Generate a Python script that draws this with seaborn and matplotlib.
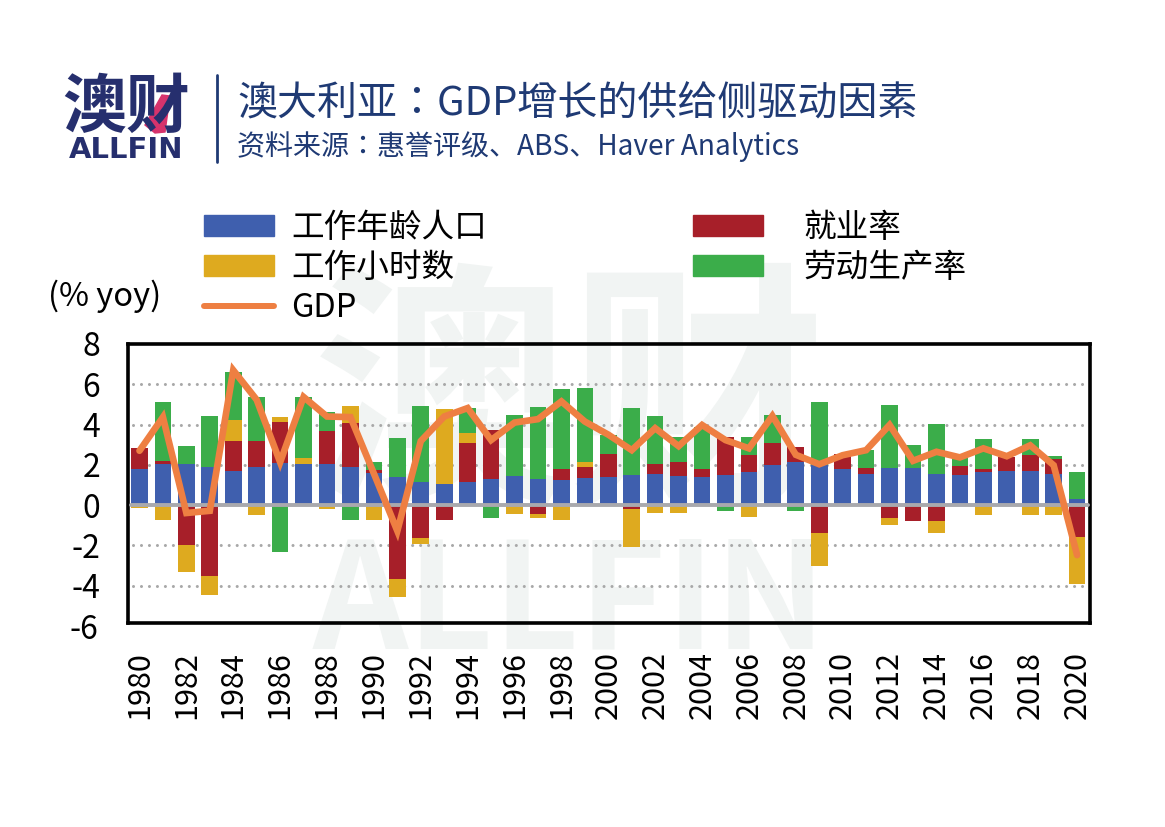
import pandas as pd
import matplotlib
matplotlib.use('Agg')
import matplotlib.pyplot as plt
from matplotlib.lines import Line2D
from matplotlib.patches import Patch, Polygon
import seaborn as sns

years = list(range(1980, 2021))

# Four contributions to growth, percentage points
working_age = [1.78, 2.02, 2.02, 1.87, 1.72, 1.88, 2.07, 2.03, 2.03, 1.88, 1.60, 1.40, 1.17, 1.03,
               1.13, 1.28, 1.43, 1.32, 1.25, 1.33, 1.42, 1.48, 1.53, 1.45, 1.38, 1.50, 1.67, 1.98,
               2.13, 2.00, 1.78, 1.55, 1.82, 1.82, 1.55, 1.50, 1.63, 1.72, 1.72, 1.53, 0.32]
employment = [1.08, 0.18, -1.97, -3.50, 1.46, 1.30, 2.06, 0, 1.67, 2.22, 0.15, -3.67, -1.62, -0.74,
              1.94, 2.47, 0, -0.46, 0.55, 0.54, 1.10, -0.20, 0.49, 0.70, 0.39, 1.88, 0.81, 1.10,
              0.75, -1.36, 0.75, 0.27, -0.62, -0.79, -0.79, 0.43, 0.14, 0.68, 0.76, 0.74, -1.60]
hours = [-0.15, -0.74, -1.33, -0.96, 1.04, -0.49, 0.24, 0.29, -0.20, 0.82, -0.74, -0.90, -0.31, 3.75,
         0.53, 0, -0.44, -0.18, -0.74, 0.25, 0, -1.87, -0.41, -0.41, 0, 0, -0.59, 0,
         0, -1.66, 0, 0, -0.38, 0, -0.57, 0, -0.49, 0, -0.49, -0.49, -2.33]
productivity = [0, 2.90, 0.91, 2.56, 2.38, 2.19, -2.34, 3.05, 0.90, -0.74, 0.40, 1.95, 3.76, 0,
                1.23, -0.66, 3.04, 3.56, 3.97, 3.71, 0.96, 3.35, 2.40, 1.22, 2.10, -0.31, 0.89, 1.39,
                -0.31, 3.10, 0, 0.90, 3.15, 1.15, 2.48, 0.55, 1.50, 0, 0.82, 0.18, 1.35]
gdp = [2.70, 4.37, -0.39, -0.28, 6.70, 5.23, 2.13, 5.37, 4.40, 4.37, 1.57, -1.28, 3.18, 4.40,
       4.82, 3.23, 4.10, 4.27, 5.15, 4.15, 3.50, 2.73, 3.82, 2.93, 3.98, 3.23, 2.82, 4.43,
       2.50, 2.03, 2.48, 2.73, 3.98, 2.20, 2.65, 2.37, 2.82, 2.43, 2.97, 1.98, -2.48]

y_ticks = [8, 6, 4, 2, 0, -2, -4]
BLUE, RED, YELLOW, GREEN, ORANGE = '#3f5fae', '#a71f29', '#deaa1f', '#3bad4a', '#ee7f42'
NAVY = '#1f3a74'
# JP punctuation: centred full-width colon, low 、 as in the header of the reference
HEADER_FONT = ['Noto Sans CJK JP', 'DejaVu Sans']

sns.set_theme(style='white')
plt.rcParams['font.family'] = ['Noto Sans CJK SC', 'DejaVu Sans']
plt.rcParams['axes.unicode_minus'] = False

fig = plt.figure(figsize=(11.65, 8.27), dpi=100)
W, H = 1165, 827
ax = fig.add_axes([128 / W, 1 - 623 / H, (1090 - 128) / W, (623 - 344) / H])

# Watermark sits behind everything
fig.text(570 / W, 1 - 405 / H, '澳财', fontsize=185, fontweight='bold', color='#f1f4f3',
         ha='center', va='center', zorder=-1)
fig.text(570 / W, 1 - 605 / H, 'ALLFIN', fontsize=107, fontweight='bold', color='#f1f4f3',
         ha='center', va='center', zorder=-1)
ax.patch.set_alpha(0)

df = pd.DataFrame({'year': [str(y) for y in years], 'working_age': working_age, 'employment': employment,
                   'hours': hours, 'productivity': productivity})

# Stack positives upward and negatives downward, in the legend's order
pos_base = [0.0] * len(years)
neg_base = [0.0] * len(years)
for col, color in [('working_age', BLUE), ('employment', RED), ('hours', YELLOW), ('productivity', GREEN)]:
    bottoms = [pos_base[i] if v >= 0 else neg_base[i] for i, v in enumerate(df[col])]
    sns.barplot(data=df, x='year', y=col, color=color, bottom=bottoms, width=0.71,
                saturation=1, linewidth=0, ax=ax, zorder=3)
    for i, v in enumerate(df[col]):
        if v >= 0:
            pos_base[i] += v
        else:
            neg_base[i] += v

sns.lineplot(x=list(range(len(years))), y=gdp, color=ORANGE, linewidth=4.8, ax=ax, zorder=5,
             solid_joinstyle='miter', solid_capstyle='round')

for g in [6, 4, 2, -2, -4]:
    ax.plot([-0.29, 40.34], [g, g], color='#a8a8a8', lw=2.2, ls=(0, (0.01, 2.6)),
            dash_capstyle='round', zorder=2)
ax.plot([-0.36, 40.47], [0, 0], color='#a9a9ad', lw=2.8, zorder=4)

ax.set_yticks(y_ticks)
ax.set_yticklabels([str(t) for t in y_ticks], fontsize=23, color='black')
ax.set_xticks(range(0, len(years), 2))
ax.set_xticklabels([str(y) for y in years[::2]], rotation=90, fontsize=22, color='black')
ax.set_xlim(-0.49, 40.55)
ax.set_ylim(-5.85, 8)
ax.tick_params(axis='x', length=0, pad=20)
ax.tick_params(axis='y', length=0, pad=20)
ax.set_xlabel('')
ax.set_ylabel('')
for s in ax.spines.values():
    s.set_visible(True)
    s.set_color('black')
    s.set_linewidth(2.6)

# The lowest label sits just under the frame, so the tick machinery would drop it
ax.text(-30 / 962, -6, '-6', transform=ax.get_yaxis_transform(), fontsize=23, color='black',
        ha='right', va='center_baseline', clip_on=False)

# Two separate legend blocks, the right one has a wider gap after its swatches
left_handles = [Patch(color=BLUE), Patch(color=YELLOW), Line2D([], [], color=ORANGE, lw=4.3)]
left_labels = ['工作年龄人口', '工作小时数', 'GDP']
right_handles = [Patch(color=RED), Patch(color=GREEN)]
right_labels = ['就业率', '劳动生产率']
legend_opts = dict(frameon=False, fontsize=23.5, loc='upper left', handlelength=2.15, handleheight=0.6,
                   labelspacing=0.245, borderpad=0, borderaxespad=0, labelcolor='black')
fig.legend(left_handles, left_labels, bbox_to_anchor=(204 / W, 1 - 212 / H), handletextpad=0.52, **legend_opts)
fig.legend(right_handles, right_labels, bbox_to_anchor=(693 / W, 1 - 212 / H), handletextpad=1.23, **legend_opts)

fig.text(48 / W, 1 - 296 / H, '(% yoy)', fontsize=23.5, color='black', va='center')

# Header
fig.text(237 / W, 1 - 105 / H, '澳大利亚：GDP增长的供给侧驱动因素', fontsize=28.8, color=NAVY,
         va='center', family=HEADER_FONT)
fig.text(237 / W, 1 - 147 / H, '资料来源：惠誉评级、ABS、Haver Analytics', fontsize=20.2, color=NAVY,
         va='center', family=HEADER_FONT)
fig.add_artist(Line2D([217 / W, 217 / W], [1 - 75 / H, 1 - 162 / H], color=NAVY, lw=2))
fig.text(126 / W, 1 - 108 / H, '澳财', fontsize=46, fontweight='black', color='#262f6e',
         ha='center', va='center')
fig.text(126 / W, 1 - 150 / H, 'ALLFIN', fontsize=21, fontweight='bold', color='#262f6e',
         ha='center', va='center', family='DejaVu Sans')
fig.add_artist(Polygon([(145 / W, 1 - 125 / H), (162 / W, 1 - 95 / H), (170 / W, 1 - 96 / H),
                        (165 / W, 1 - 132 / H), (155 / W, 1 - 133 / H)],
                       closed=True, color='#d6336c', transform=fig.transFigure))

fig.savefig('out.png', dpi=100)
